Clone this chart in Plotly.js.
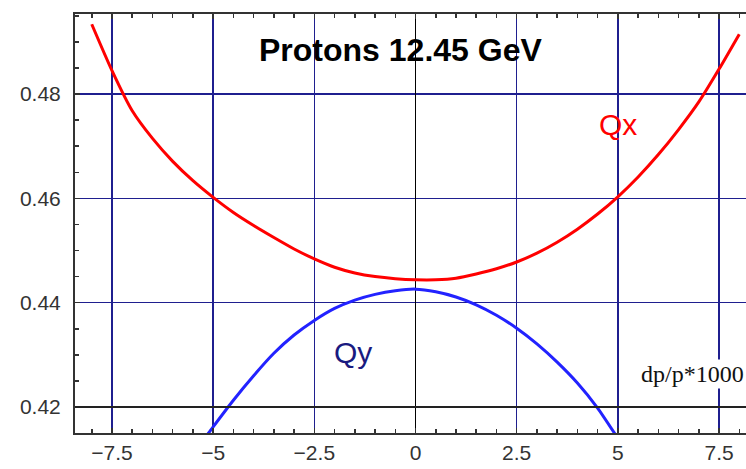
<!DOCTYPE html>
<html>
<head>
<meta charset="utf-8">
<script src="https://cdn.plot.ly/plotly-3.0.1.min.js"></script>
<style>
  html, body { margin: 0; padding: 0; overflow: hidden; background: #fff; }
  #plot { width: 760px; height: 469px; }
</style>
</head>
<body>
<div id="plot"></div>
<script>
// tune vs momentum offset
var qxDp = [-8, -7.5, -7, -6.5, -6, -5.5, -5, -4.5, -4, -3.5, -3, -2.5, -2, -1.5, -1, -0.5,
            0, 0.5, 1, 1.5, 2, 2.5, 3, 3.5, 4, 4.5, 5, 5.5, 6, 6.5, 7, 7.5, 8];
var qxTune = [0.4934, 0.4845, 0.4768, 0.4715, 0.4671, 0.4634, 0.4602, 0.4573, 0.4548, 0.4525,
              0.4503, 0.4484, 0.4468, 0.4457, 0.4450, 0.4446, 0.4444, 0.4444, 0.4447, 0.4455,
              0.4465, 0.4478, 0.4495, 0.4516, 0.4541, 0.4570, 0.4603, 0.4641, 0.4684, 0.4732,
              0.4785, 0.4848, 0.4915];

var qyDp = [-5.2, -5, -4.5, -4, -3.5, -3, -2.5, -2, -1.5, -1, -0.5, 0,
            0.5, 1, 1.5, 2, 2.5, 3, 3.5, 4, 4.5, 5];
var qyTune = [0.4141, 0.4162, 0.4213, 0.4260, 0.4303, 0.4338, 0.4366, 0.4389, 0.4405, 0.4416,
              0.4423, 0.4426, 0.4421, 0.4411, 0.4396, 0.4376, 0.4351, 0.4321, 0.4286, 0.4246,
              0.4198, 0.4140];

var xTickVals = [-7.5, -5, -2.5, 0, 2.5, 5, 7.5];
var xTickText = ["\u22127.5", "\u22125", "\u22122.5", "0", "2.5", "5", "7.5"];
var yTickVals = [0.42, 0.44, 0.46, 0.48];
var yTickText = ["0.42", "0.44", "0.46", "0.48"];

var navy = "#1f1f8f";
var frame = "#333";

var traces = [
  {x: qxDp, y: qxTune, name: "Qx", mode: "lines", type: "scatter",
   line: {color: "#ff0000", width: 3, shape: "spline", smoothing: 0.6}},
  {x: qyDp, y: qyTune, name: "Qy", mode: "lines", type: "scatter",
   line: {color: "#2222ff", width: 3, shape: "spline", smoothing: 0.6}}
];

var tickFont = {family: "Liberation Sans, Arial, sans-serif", size: 21, color: "#333"};

var layout = {
  width: 760, height: 469,
  margin: {l: 75, r: 0, t: 14, b: 36},
  paper_bgcolor: "#fff", plot_bgcolor: "#fff",
  showlegend: false,
  xaxis: {
    range: [-8.414, 8.512],
    tickvals: xTickVals, ticktext: xTickText,
    ticks: "inside", ticklen: 5, tickwidth: 1.5, tickcolor: frame,
    minor: {dtick: 0.5, tick0: 0, ticks: "inside", ticklen: 4, tickcolor: frame, tickwidth: 1.5, showgrid: false},
    showline: true, linecolor: frame, linewidth: 2, mirror: "ticks",
    showgrid: true, gridcolor: navy, gridwidth: 1.5,
    zeroline: true, zerolinecolor: "#000", zerolinewidth: 1.5,
    tickfont: tickFont, ticklabelstandoff: 0
  },
  yaxis: {
    range: [0.41501, 0.49536],
    tickvals: yTickVals, ticktext: yTickText,
    ticks: "inside", ticklen: 5, tickwidth: 1.5, tickcolor: frame,
    minor: {dtick: 0.005, tick0: 0.4, ticks: "inside", ticklen: 4, tickcolor: frame, tickwidth: 1.5, showgrid: false},
    showline: true, linecolor: frame, linewidth: 2, mirror: "ticks",
    showgrid: true, gridcolor: navy, gridwidth: 1.5,
    zeroline: false,
    tickfont: tickFont, ticklabelstandoff: 8
  },
  shapes: [
    // horizontal axis of the original plot sits at 0.42
    {type: "line", xref: "paper", x0: 0, x1: 1, yref: "y", y0: 0.42, y1: 0.42,
     line: {color: "#222", width: 2}, layer: "above"}
  ],
  annotations: [
    {text: "<b>Protons 12.45 GeV</b>", x: -0.36, y: 0.4885, xref: "x", yref: "y",
     showarrow: false, xanchor: "center", yanchor: "middle",
     font: {family: "Liberation Sans, Arial, sans-serif", size: 32, color: "#000"}},
    {text: "Qx", x: 5.0, y: 0.4741, xref: "x", yref: "y",
     showarrow: false, xanchor: "center", yanchor: "middle",
     font: {family: "Liberation Sans, Arial, sans-serif", size: 30, color: "#ff0000"}},
    {text: "Qy", x: -1.55, y: 0.4305, xref: "x", yref: "y",
     showarrow: false, xanchor: "center", yanchor: "middle",
     font: {family: "Liberation Sans, Arial, sans-serif", size: 30, color: "#1a1a80"}},
    {text: "dp/p*1000", x: 8.16, y: 0.4263, xref: "x", yref: "y",
     showarrow: false, xanchor: "right", yanchor: "middle", bgcolor: "#fff",
     font: {family: "Liberation Serif, Times New Roman, serif", size: 24, color: "#111"}}
  ]
};

Plotly.newPlot("plot", traces, layout, {staticPlot: true});
</script>
</body>
</html>
